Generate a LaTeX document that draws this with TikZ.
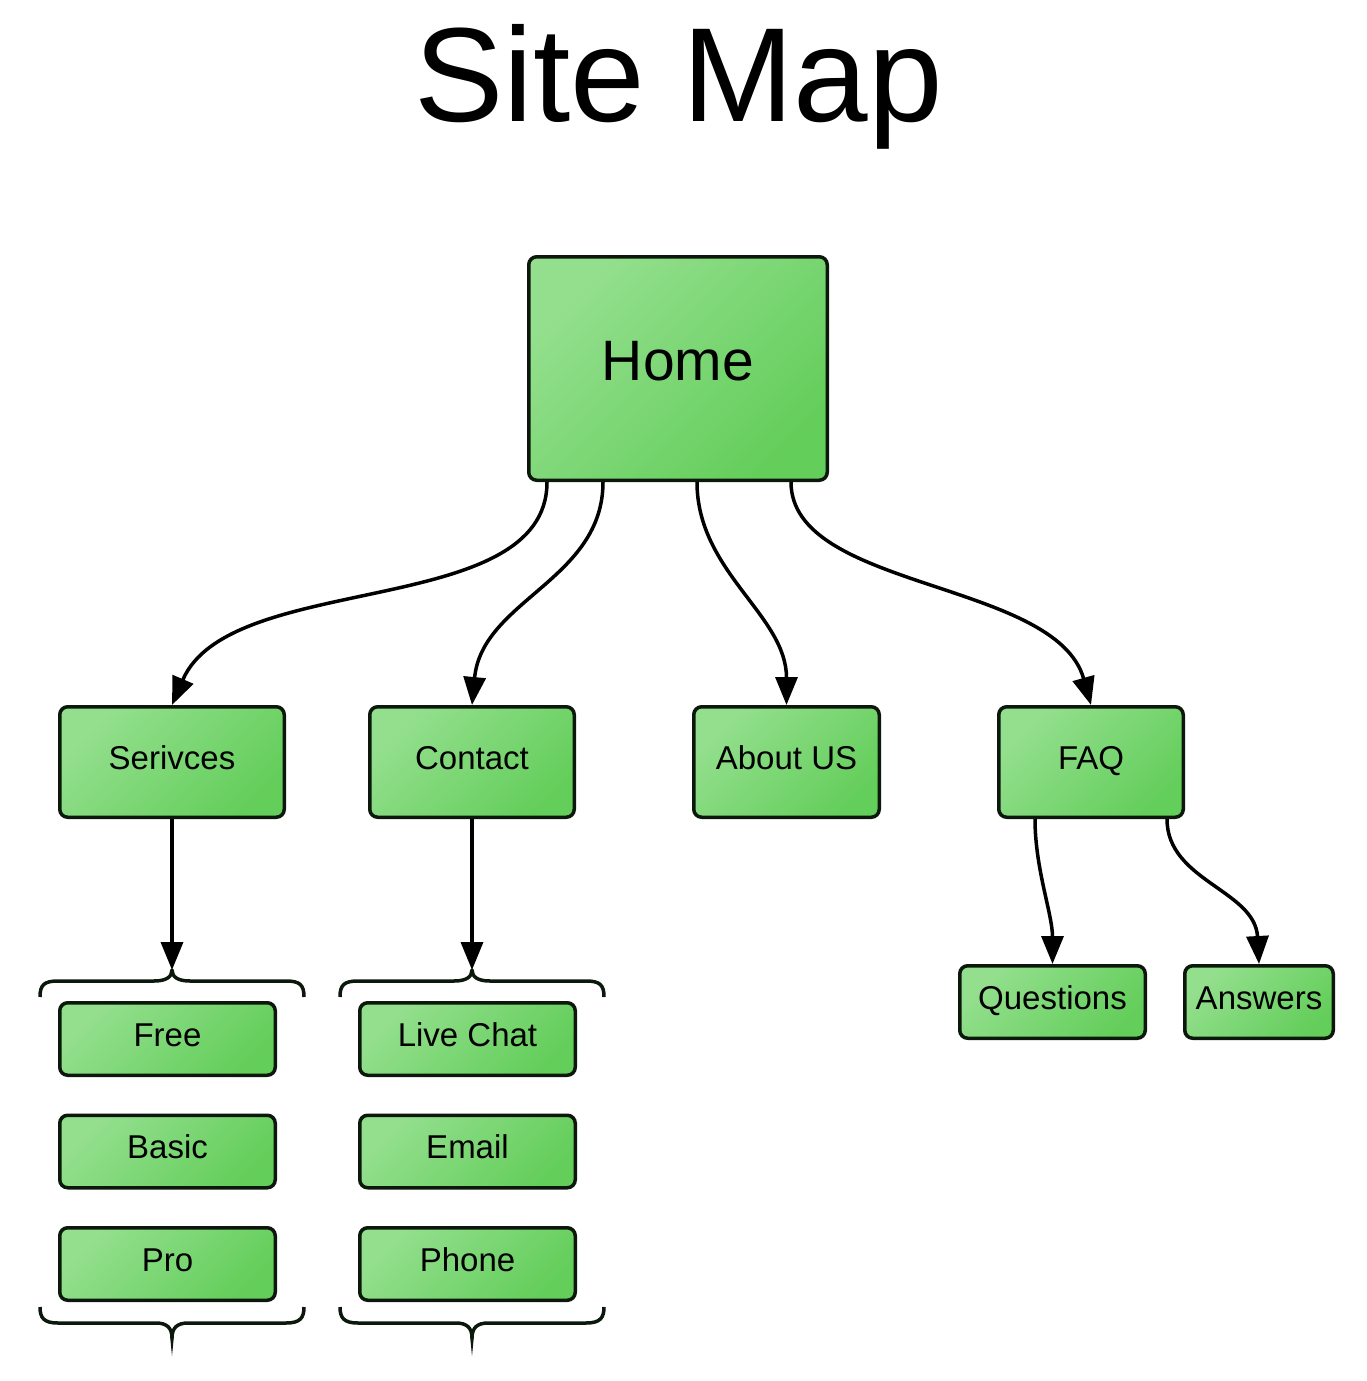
\documentclass[tikz,border=0pt]{standalone}
\usepackage{fontspec}
\setmainfont{Liberation Sans}
\usetikzlibrary{arrows.meta,positioning}

\definecolor{boxlight}{RGB}{148,223,142}
\definecolor{boxdark}{RGB}{100,206,91}
\definecolor{boxline}{RGB}{12,24,12}

\tikzset{
  bracepen/.style={draw=boxline,line width=3.5pt,line join=round},
  topbrace/.pic={
    \draw[bracepen] (-132,27) .. controls (-132,15) and (-128,11) .. (-114,11)
      -- (-18,11) .. controls (-6,11) and (0,7) .. (0,0)
      .. controls (0,7) and (6,11) .. (18,11)
      -- (114,11) .. controls (128,11) and (132,15) .. (132,27);
  },
  bottombrace/.pic={
    \draw[bracepen] (-132,-49) .. controls (-132,-38) and (-128,-33) .. (-114,-33)
      -- (-16,-33) .. controls (-5,-33) and (0,-28) .. (0,-18)
      .. controls (0,-28) and (5,-33) .. (16,-33)
      -- (114,-33) .. controls (128,-33) and (132,-38) .. (132,-49);
    \fill[boxline] (-1.75,-18) -- (1.75,-18) -- (0,0) -- cycle;
  }
}

\begin{document}
\begin{tikzpicture}[x=1pt,y=-1pt,on grid,
  box/.style={draw=boxline,line width=3.5pt,rounded corners=8pt,inner sep=0pt,
    top color=boxlight,bottom color=boxdark,shading angle=45,
    font=\fontsize{33}{40}\selectfont,text height=24pt,text depth=10pt},
  mainbox/.style={box,minimum width=224.5pt,minimum height=110.5pt},
  subbox/.style={box,minimum width=215.5pt,minimum height=72.5pt},
  homebox/.style={box,minimum width=298.5pt,minimum height=223.5pt,
    font=\fontsize{57}{68}\selectfont,text height=41pt,text depth=17pt},
  title/.style={font=\fontsize{134}{160}\selectfont},
  link/.style={line width=3.5pt,-{Triangle[length=28pt,width=22pt]}}]
\useasboundingbox (0,0) rectangle (1367,1381);

\node[title,anchor=base] (title) at (678.5,121) {Site Map};
\node[homebox] (home) at (678,368.5) {Home};

% second row
\node[mainbox] (serv) [below left=393.5pt and 506pt of home] {Serivces};
\node[mainbox,minimum width=204.5pt] (contact) [right=300pt of serv] {Contact};
\node[mainbox,minimum width=185.5pt] (about) [right=314.5pt of contact] {About US};
\node[mainbox,minimum width=184.5pt] (faq) [right=304.5pt of about] {FAQ};

% services and contact lists
\node[subbox] (free) [below left=277pt and 4.5pt of serv] {Free};
\node[subbox] (basic) [below=112.5pt of free] {Basic};
\node[subbox] (pro) [below=112.5pt of basic] {Pro};
\node[subbox] (chat) [right=300pt of free] {Live Chat};
\node[subbox] (email) [right=300pt of basic] {Email};
\node[subbox] (phone) [right=300pt of pro] {Phone};

% faq children
\node[subbox,minimum width=185.5pt] (quest) [below left=240pt and 38.5pt of faq] {Questions};
\node[subbox,minimum width=148.5pt] (answ) [right=206.5pt of quest] {Answers};

% braces
\node[coordinate,below=208pt of serv] (servtop) {};
\node[coordinate,below=208pt of contact] (conttop) {};
\node[coordinate,below=594pt of serv] (servend) {};
\node[coordinate,below=594pt of contact] (contend) {};
\pic at (servtop) {topbrace};
\pic at (conttop) {topbrace};
\pic at (servend) {bottombrace};
\pic at (contend) {bottombrace};

\draw[link] ([xshift=20pt]home.south west) .. controls +(0,138) and +(58,-135) .. (serv.north);
\draw[link] ([xshift=76pt]home.south west) .. controls +(0,98) and +(10,-105) .. (contact.north);
\draw[link] ([xshift=170pt]home.south west) .. controls +(0,90) and +(0,-90) .. (about.north);
\draw[link] ([xshift=264pt]home.south west) .. controls +(0,108) and +(-35,-125) .. (faq.north);
\draw[link] (serv.south) -- (servtop);
\draw[link] (contact.south) -- (conttop);
\draw[link] ([xshift=38pt]faq.south west) .. controls +(0,50) and +(0,-50) .. (quest.north);
\draw[link] ([xshift=170pt]faq.south west) .. controls +(0,62) and +(-4,-74) .. (answ.north);
\end{tikzpicture}
\end{document}
